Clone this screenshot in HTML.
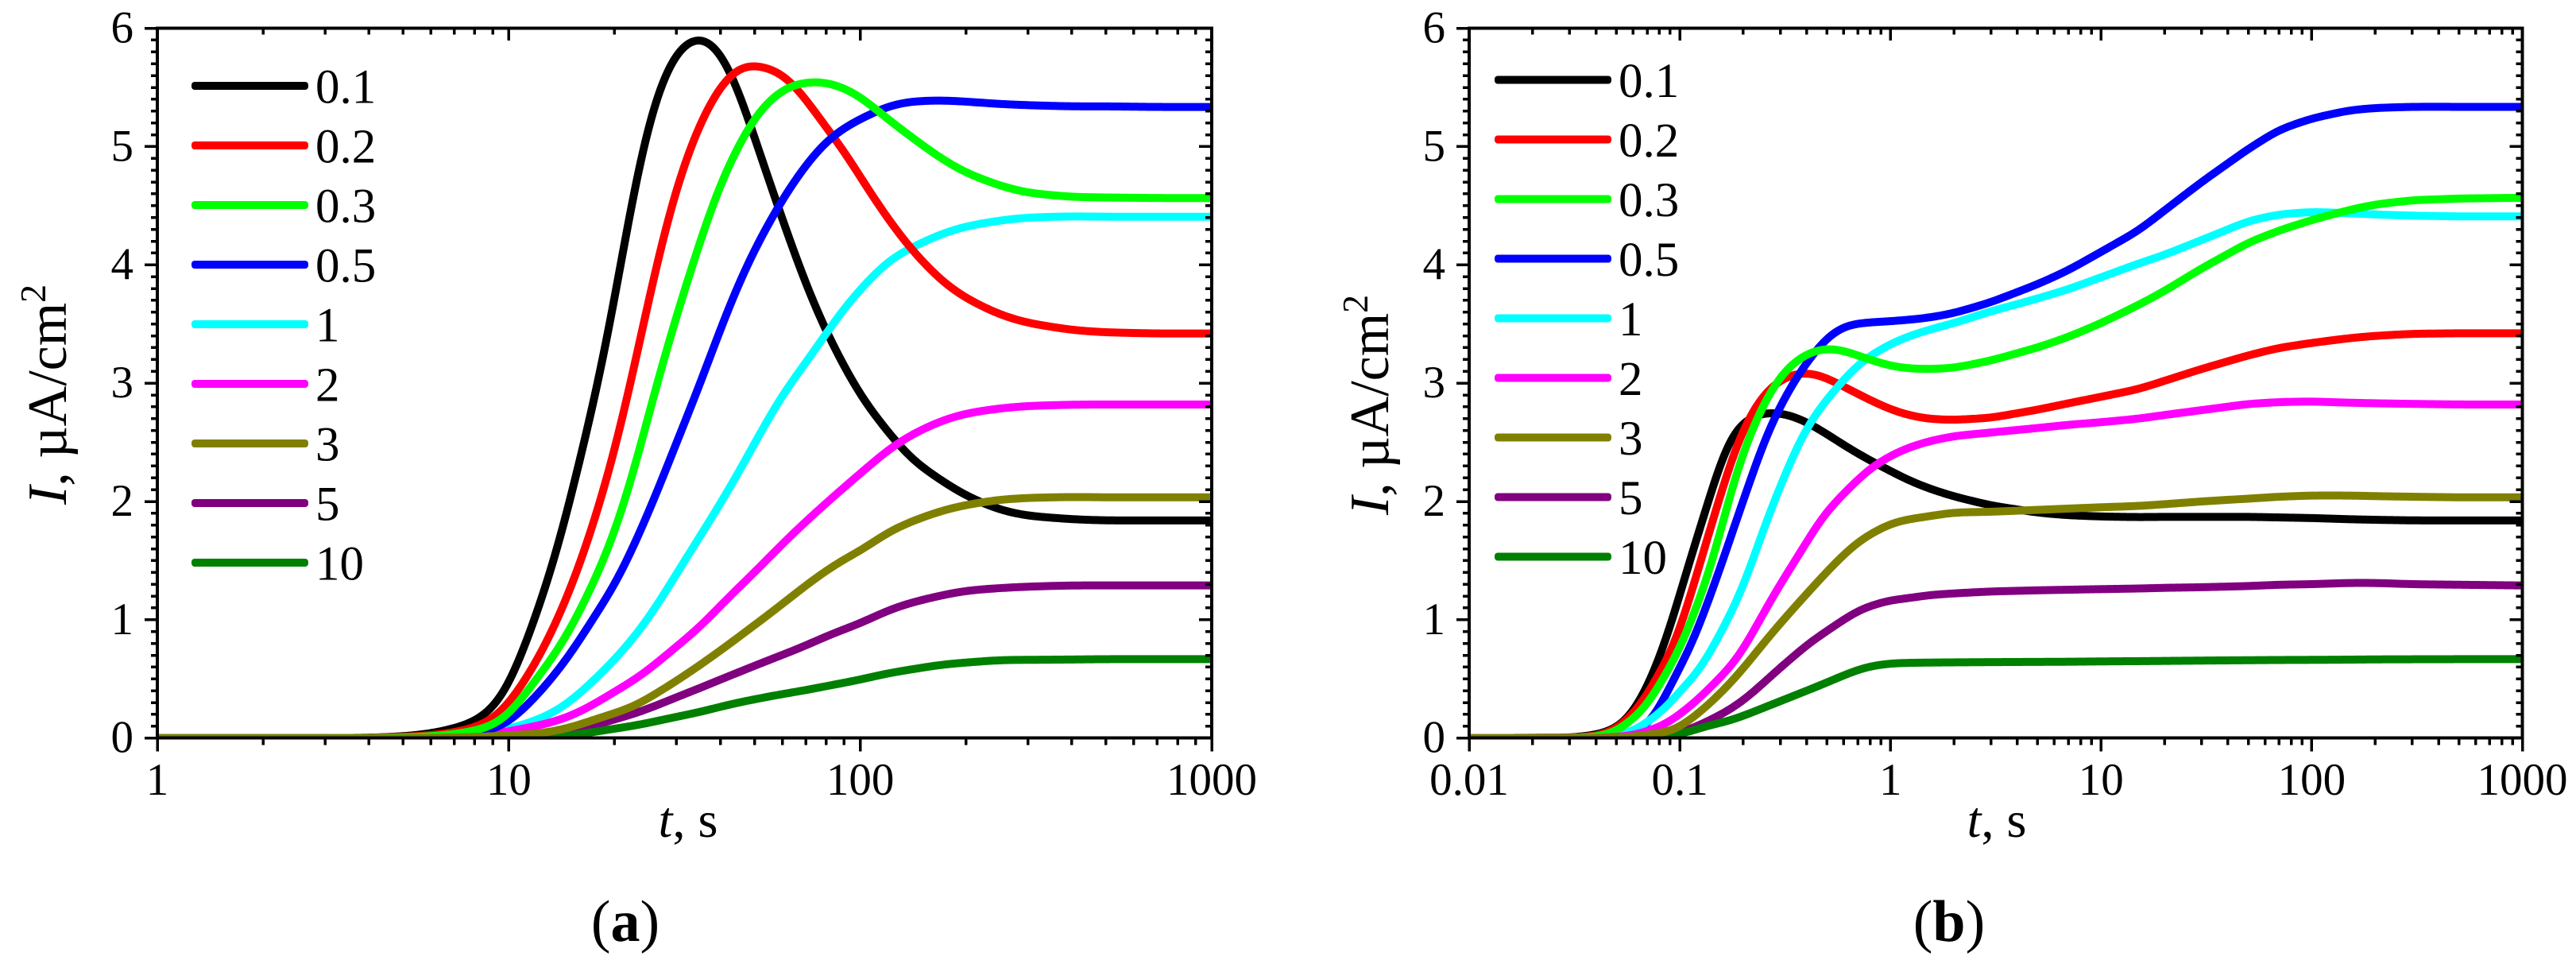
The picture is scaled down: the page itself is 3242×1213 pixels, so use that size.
<!DOCTYPE html>
<html lang="en">
<head>
<meta charset="utf-8">
<title>Current density transients</title>
<style>
html,body{margin:0;padding:0;background:#fff;}
svg{display:block;}
text{font-family:"Liberation Serif","DejaVu Serif",serif;fill:#000;}
</style>
</head>
<body>
<svg id="figure" xmlns="http://www.w3.org/2000/svg" width="3242" height="1213" viewBox="0 0 3242 1213">
<defs>
<clipPath id="clip-a"><rect x="198" y="35.6" width="1327" height="893.1"/></clipPath>
<clipPath id="clip-b"><rect x="1849" y="35.6" width="1325.5" height="893.1"/></clipPath>
</defs>
<text transform="translate(83,635) rotate(-90)" font-size="70"><tspan font-style="italic">I</tspan>, µA/cm<tspan font-size="46" dy="-26">2</tspan></text>
<text transform="translate(1747,648) rotate(-90)" font-size="70"><tspan font-style="italic">I</tspan>, µA/cm<tspan font-size="46" dy="-26">2</tspan></text>
<text x="866" y="1053" font-size="64" text-anchor="middle"><tspan font-style="italic">t</tspan>, s</text>
<text x="2513" y="1053" font-size="64" text-anchor="middle"><tspan font-style="italic">t</tspan>, s</text>
<text x="787" y="1184" font-size="74" text-anchor="middle">(<tspan font-weight="bold">a</tspan>)</text>
<text x="2453" y="1184" font-size="74" text-anchor="middle">(<tspan font-weight="bold">b</tspan>)</text>
</svg>
<script>
// Shared labels and colours
const seriesNames = ['0.1','0.2','0.3','0.5','1','2','3','5','10'];
const seriesColors = ['#000000','#ff0000','#00ff00','#0000ff','#00ffff','#ff00ff','#808000','#800080','#008000'];
const yTickLabels = [0,1,2,3,4,5,6];
const xTickLabelsA = ['1','10','100','1000'];
const xTickLabelsB = ['0.01','0.1','1','10','100','1000'];
const drawOrderA = [7,8,0,4,5,1,3,2,6];
const drawOrderB = [7,8,0,1,3,4,2,5,6];

// Panel (a): time grid, s
const timeA = [1,3,4,5,6,7,8,9,10,12,14,16,18,20,23,26,30,35,40,45,50,60,70,80,90,100,120,140,170,200,250,300,400,500,700,1000];
const a01 = [0,0,.003,.015,.04,.086,.147,.265,.45,1.055,1.68,2.39,3.015,3.71,4.71,5.37,5.79,5.915,5.79,5.47,5.07,4.39,3.84,3.44,3.15,2.90,2.59,2.36,2.18,2.05,1.93,1.88,1.85,1.84,1.84,1.84];
const a02 = [0,0,.002,.01,.025,.05,.095,.165,.295,.65,1.055,1.49,1.96,2.43,3.20,3.93,4.65,5.19,5.50,5.66,5.68,5.615,5.40,5.155,4.965,4.74,4.39,4.13,3.87,3.72,3.58,3.51,3.45,3.43,3.42,3.42];
const a03 = [0,0,.001,.006,.015,.035,.065,.115,.20,.505,.775,1.09,1.415,1.74,2.32,2.93,3.565,4.19,4.685,4.99,5.245,5.48,5.54,5.54,5.49,5.42,5.23,5.08,4.90,4.78,4.67,4.61,4.575,4.57,4.565,4.565];
const a05 = [0,0,0,.003,.01,.02,.04,.08,.137,.36,.595,.84,1.09,1.29,1.67,2.03,2.50,2.99,3.457,3.83,4.125,4.55,4.84,5.04,5.155,5.23,5.34,5.38,5.39,5.38,5.36,5.35,5.34,5.34,5.335,5.335];
const a1 = [0,0,0,.001,.005,.012,.025,.045,.08,.152,.25,.385,.53,.663,.875,1.09,1.39,1.705,1.985,2.24,2.49,2.90,3.17,3.42,3.63,3.79,4.03,4.145,4.26,4.325,4.375,4.40,4.41,4.407,4.407,4.407];
const a2 = [0,0,0,.001,.004,.01,.02,.035,.058,.103,.155,.226,.31,.394,.50,.62,.775,.94,1.12,1.27,1.40,1.64,1.83,1.985,2.12,2.235,2.435,2.563,2.68,2.743,2.787,2.807,2.818,2.82,2.82,2.82];
const a3 = [0,0,0,0,.002,.005,.009,.015,.025,.036,.07,.115,.17,.21,.277,.37,.484,.618,.74,.853,.954,1.133,1.29,1.413,1.514,1.58,1.74,1.83,1.92,1.97,2.015,2.03,2.038,2.035,2.035,2.035];
const a5 = [0,0,0,0,0,.001,.001,.002,.004,.009,.035,.07,.118,.159,.21,.27,.345,.423,.495,.555,.611,.703,.782,.86,.92,.97,1.079,1.145,1.205,1.245,1.268,1.28,1.29,1.29,1.29,1.29];
const a10 = [0,0,0,0,0,0,0,0,.001,.003,.013,.035,.058,.08,.107,.14,.18,.22,.265,.30,.327,.372,.405,.439,.468,.494,.548,.58,.62,.638,.659,.661,.664,.667,.667,.667];

// Panel (b): time grid, s
const timeB = [.01,.03,.04,.05,.06,.07,.08,.09,.1,.12,.14,.16,.18,.2,.23,.26,.3,.35,.4,.45,.5,.6,.7,.8,1,1.2,1.5,2,3,5,7,10,15,20,30,50,70,100,150,200,300,500,1000];
const b01 = [0,.004,.03,.09,.226,.44,.685,.94,1.22,1.68,2.05,2.378,2.568,2.653,2.725,2.743,2.743,2.713,2.668,2.617,2.568,2.478,2.406,2.348,2.258,2.186,2.115,2.043,1.967,1.906,1.884,1.873,1.868,1.87,1.87,1.87,1.865,1.86,1.85,1.845,1.84,1.84,1.84];
const b02 = [0,.003,.02,.08,.215,.36,.573,.708,.927,1.375,1.78,2.109,2.40,2.597,2.803,2.926,3.02,3.072,3.083,3.067,3.04,2.97,2.91,2.858,2.78,2.735,2.70,2.69,2.708,2.776,2.83,2.885,2.95,3.02,3.12,3.235,3.298,3.34,3.38,3.40,3.417,3.422,3.422];
const b03 = [0,.002,.012,.06,.17,.282,.46,.607,.764,1.11,1.447,1.817,2.165,2.40,2.68,2.87,3.05,3.173,3.24,3.274,3.29,3.273,3.233,3.199,3.148,3.127,3.12,3.13,3.192,3.302,3.392,3.508,3.66,3.78,3.97,4.187,4.29,4.379,4.463,4.51,4.546,4.561,4.567];
const b05 = [0,.001,.005,.03,.05,.114,.26,.45,.596,.887,1.223,1.49,1.783,1.996,2.317,2.568,2.80,3.016,3.166,3.287,3.379,3.475,3.501,3.513,3.524,3.535,3.553,3.593,3.685,3.837,3.956,4.11,4.29,4.46,4.70,4.98,5.14,5.237,5.305,5.326,5.336,5.336,5.336];
const b1 = [0,.001,.004,.02,.062,.137,.215,.293,.405,.542,.737,.927,1.11,1.279,1.586,1.85,2.124,2.407,2.617,2.752,2.86,3.027,3.15,3.228,3.329,3.39,3.448,3.508,3.607,3.716,3.795,3.895,4.01,4.085,4.21,4.369,4.426,4.447,4.437,4.426,4.416,4.41,4.41];
const b2 = [0,0,.002,.01,.025,.06,.098,.143,.204,.316,.432,.54,.636,.753,.943,1.11,1.301,1.487,1.655,1.799,1.915,2.063,2.182,2.276,2.384,2.449,2.505,2.552,2.583,2.621,2.648,2.67,2.70,2.731,2.772,2.824,2.84,2.845,2.835,2.83,2.825,2.82,2.82];
const b3 = [0,0,.001,.004,.012,.029,.043,.063,.096,.2,.3,.403,.495,.591,.721,.84,.968,1.104,1.218,1.317,1.407,1.548,1.653,1.72,1.81,1.846,1.873,1.906,1.913,1.929,1.94,1.951,1.962,1.977,2.0,2.024,2.04,2.05,2.05,2.045,2.04,2.035,2.035];
const b5 = [0,0,0,0,.002,.006,.015,.03,.047,.098,.157,.208,.264,.32,.41,.495,.596,.694,.786,.849,.905,1.0,1.073,1.114,1.165,1.18,1.207,1.223,1.239,1.249,1.254,1.259,1.264,1.27,1.275,1.285,1.296,1.301,1.311,1.311,1.301,1.296,1.29];
const b10 = [0,0,0,0,.001,.004,.01,.02,.036,.072,.114,.13,.161,.188,.23,.269,.311,.36,.4,.437,.47,.53,.575,.605,.63,.635,.638,.64,.642,.644,.645,.648,.65,.652,.655,.658,.66,.661,.663,.665,.666,.667,.667];

const valuesA = [a01,a02,a03,a05,a1,a2,a3,a5,a10];
const valuesB = [b01,b02,b03,b05,b1,b2,b3,b5,b10];

const NS = 'http://www.w3.org/2000/svg';
const svg = document.getElementById('figure');

function make(tag, attrs, parent, text) {
  const el = document.createElementNS(NS, tag);
  for (const k in attrs) el.setAttribute(k, attrs[k]);
  if (text !== undefined) el.textContent = text;
  parent.appendChild(el);
  return el;
}

// Gaussian filter over evenly spaced samples
function gaussian(ys, sigmaSamples) {
  const r = Math.ceil(sigmaSamples * 3), w = [];
  let sum = 0;
  for (let k = -r; k <= r; k++) {
    const g = Math.exp(-k * k / (2 * sigmaSamples * sigmaSamples));
    w.push(g);
    sum += g;
  }
  return ys.map(function (_, i) {
    let acc = 0;
    for (let k = -r; k <= r; k++) {
      const j = Math.max(0, Math.min(ys.length - 1, i + k));
      acc += ys[j] * w[k + r];
    }
    return acc / sum;
  });
}

// The read-off points carry reading noise; resample in pixel space and smooth
// with a bias-corrected filter so that peaks keep their height.
function curvePath(xs, ys, left, right, sigmaPx) {
  const step = 2, gx = [], gy = [];
  let seg = 0;
  for (let x = left; x <= right + 0.01; x += step) {
    while (seg < xs.length - 2 && x > xs[seg + 1]) seg++;
    const f = Math.max(0, Math.min(1, (x - xs[seg]) / (xs[seg + 1] - xs[seg])));
    gx.push(x);
    gy.push(ys[seg] + f * (ys[seg + 1] - ys[seg]));
  }
  const s1 = gaussian(gy, sigmaPx / step);
  const s2 = gaussian(s1, sigmaPx / step);
  let p = '';
  for (let i = 0; i < gx.length; i++) {
    p += (i ? 'L' : 'M') + gx[i].toFixed(1) + ' ' + (2 * s1[i] - s2[i]).toFixed(2);
  }
  return p;
}

function drawPanel(cfg) {
  const L = cfg.left, R = cfg.right, T = 35.6, B = 928.7;
  const xMinLog = Math.log10(cfg.xMin), xMaxLog = Math.log10(cfg.xMax);
  const xScale = t => L + (Math.log10(t) - xMinLog) / (xMaxLog - xMinLog) * (R - L);
  const yScale = v => B - v / 6 * (B - T);

  const panel = make('g', {}, svg);
  
  

  // Series
  const plot = make('g', { 'clip-path': 'url(#clip-' + cfg.id + ')' }, panel);
  
  
  cfg.order.forEach(function (si) {
    const xs = cfg.time.map(xScale);
    const ys = cfg.values[si].map(yScale);
    const line = make('path', { d: curvePath(xs, ys, L, R, cfg.sigma), fill: 'none', stroke: seriesColors[si], 'stroke-width': 10, 'stroke-linejoin': 'round' }, plot);
    
    
  });

  // Axes
  const axes = make('g', { stroke: '#000', 'stroke-width': 3.5, 'shape-rendering': 'crispEdges' }, panel);
  
  
  const frame = make('rect', { x: L, y: T, width: R - L, height: B - T, fill: 'none', 'stroke-width': 4 }, axes);
  
  

  // Y ticks
  for (let k = 0; k <= 60; k++) {
    const y = yScale(k / 10), major = k % 10 === 0;
    make('line', { x1: L - (major ? 16 : 8), x2: L, y1: y, y2: y }, axes);
    make('line', { x1: R, x2: R - (major ? 16 : 8), y1: y, y2: y }, axes);
  }
  // X ticks
  for (let e = Math.round(xMinLog); e <= Math.round(xMaxLog); e++) {
    for (let m = 1; m <= 9; m++) {
      if (e === Math.round(xMaxLog) && m > 1) break;
      const x = xScale(m * Math.pow(10, e)), major = m === 1;
      make('line', { x1: x, x2: x, y1: T, y2: T + (major ? 15.5 : 8) }, axes);
      make('line', { x1: x, x2: x, y1: B, y2: B + (major ? 17 : 9) }, axes);
    }
  }

  // Tick labels
  yTickLabels.forEach(function (v) {
    const lab = make('text', { x: L - 30, y: yScale(v) + 18, 'font-size': 57, 'text-anchor': 'end' }, panel, String(v));
    
    
  });
  cfg.xLabels.forEach(function (s) {
    const lab = make('text', { x: xScale(parseFloat(s)), y: 1000, 'font-size': 57, 'text-anchor': 'middle' }, panel, s);
    
    
  });

  // Legend
  seriesNames.forEach(function (name, i) {
    const y = cfg.legendY + i * 75;
    const entry = make('g', {}, panel);
    
    
    make('rect', { x: cfg.legendX, y: y - 5, width: 147, height: 10, rx: 4, ry: 4, fill: seriesColors[i] }, entry);
    make('text', { x: cfg.legendX + 156, y: y + 21.5, 'font-size': 61 }, entry, name);
  });
}

drawPanel({ id: 'a', left: 198, right: 1525, xMin: 1, xMax: 1000, sigma: 18, time: timeA, values: valuesA, order: drawOrderA, xLabels: xTickLabelsA, legendX: 241, legendY: 108 });
drawPanel({ id: 'b', left: 1849, right: 3174.5, xMin: 0.01, xMax: 1000, sigma: 14, time: timeB, values: valuesB, order: drawOrderB, xLabels: xTickLabelsB, legendX: 1881, legendY: 100.5 });
</script>
</body>
</html>
